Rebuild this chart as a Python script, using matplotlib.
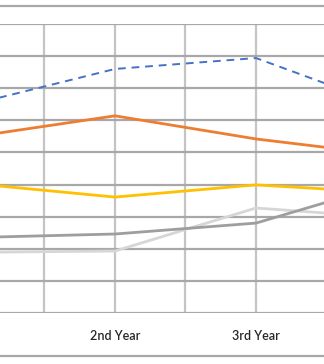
import numpy as np
import matplotlib
matplotlib.use("Agg")
import matplotlib.pyplot as plt
from matplotlib.lines import Line2D

years = ["1st Year", "2nd Year", "3rd Year", "4th Year"]
blue = [6.51, 7.60, 7.94, 6.33]
orange = [5.49, 6.14, 5.42, 4.89]
yellow = [4.03, 3.61, 3.99, 3.73]
dark_gray = [2.35, 2.46, 2.80, 4.10]
light_gray = [1.89, 1.93, 3.27, 2.95]

x = np.arange(len(years))

fig = plt.figure(figsize=(3.24, 3.64), dpi=100)
ax = fig.add_axes([0, 51 / 364, 1, 289 / 364])

ax.plot(x, light_gray, color="#D6D6D6", lw=2.0, zorder=3)
ax.plot(x, dark_gray, color="#9E9E9E", lw=2.0, zorder=3)
ax.plot(x, yellow, color="#FFC000", lw=2.0, zorder=3)
ax.plot(x, orange, color="#ED7D31", lw=2.0, zorder=3)
ax.plot(x, blue, color="#4472C4", lw=1.4, ls=(0, (4, 3)), zorder=3)

ax.set_yticks(np.arange(0, 10))
ax.set_xticks(x)
ax.set_xticklabels(years, fontsize=9, family="Lato", fontweight="semibold", color="#262626")
ax.set_xticks(np.arange(0.5, 3.5, 1), minor=True)
# ticks expand the view, so set the limits afterwards
ax.set_xlim(26 / 141, 26 / 141 + 324 / 141)
ax.set_ylim(0, 9)
ax.tick_params(axis="both", length=0, pad=12)
ax.tick_params(axis="x", which="minor", length=0)
ax.set_yticklabels([])
ax.grid(axis="y", color="#A8A8A8", lw=1.6)
ax.grid(axis="x", which="both", color="#C4C4C4", lw=1.6)
for s in ax.spines.values():
    s.set_visible(False)

fig.add_artist(Line2D([0, 1], [1 - 6 / 364, 1 - 6 / 364], color="#A8A8A8", lw=1.6))
fig.add_artist(Line2D([0, 1], [1 - 356 / 364, 1 - 356 / 364], color="#A8A8A8", lw=1.6))

fig.savefig("out.png", dpi=100)
plt.close(fig)
